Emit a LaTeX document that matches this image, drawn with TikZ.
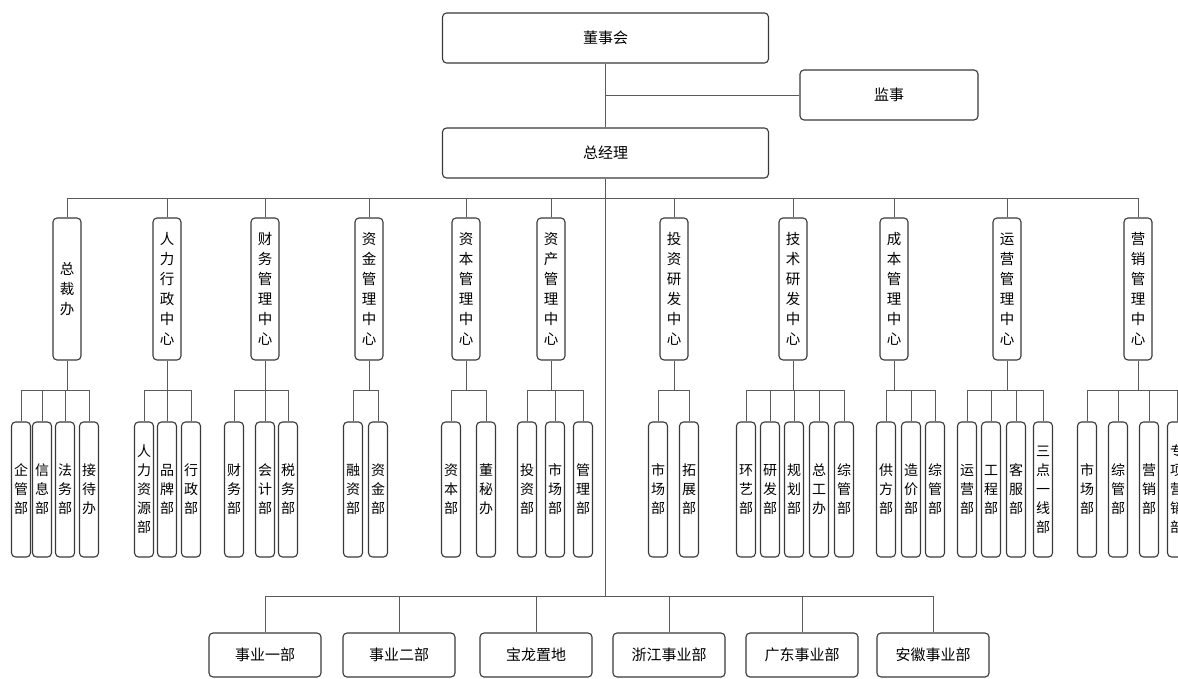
\documentclass[tikz,border=0pt]{standalone}
\usepackage{fontspec}
\newfontfamily\cjk{Noto Sans CJK SC}
\usetikzlibrary{calc}
\definecolor{boxc}{HTML}{3A3A3A}
\definecolor{linec}{HTML}{5A5A5A}
\begin{document}
\begin{tikzpicture}[x=1pt,y=-1pt,
 box/.style={draw=boxc, line width=1.1pt, rounded corners=4pt, fill=white, inner sep=0pt, align=center, font=\cjk\fontsize{14.5pt}{20pt}\selectfont},
 topbox/.style={box, minimum width=326pt, minimum height=50pt, font=\cjk\fontsize{15pt}{20pt}\selectfont},
 supbox/.style={box, minimum width=178pt, minimum height=50pt, font=\cjk\fontsize{15pt}{20pt}\selectfont},
 lvtwo/.style={box, minimum width=28pt, minimum height=142pt},
 lvthree/.style={box, minimum width=19pt, minimum height=135pt, font=\cjk\fontsize{14pt}{19pt}\selectfont},
 unitbox/.style={box, minimum width=112pt, minimum height=44pt, font=\cjk\fontsize{15pt}{20pt}\selectfont},
 conn/.style={draw=linec, line width=0.9pt}]
\useasboundingbox (0,0) rectangle (1178,679);
\fill[white] (0,0) rectangle (1178,679);
\clip (0,0) rectangle (1178,679);

% top
\node[topbox] (dsh) at (605.5,38) {董事会};
\node[supbox] (js) at (889,95) {监事};
\node[topbox] (zjl) at (605.5,153) {总经理};
\coordinate (bus2) at (605,198);
\coordinate (bus3) at (605,390);
\coordinate (busb) at (605,596);

% level 2
\node[lvtwo] (a1) at (67,289) {总\\裁\\办};
\node[lvtwo] (a2) at (167,289) {人\\力\\行\\政\\中\\心};
\node[lvtwo] (a3) at (265,289) {财\\务\\管\\理\\中\\心};
\node[lvtwo] (a4) at (369,289) {资\\金\\管\\理\\中\\心};
\node[lvtwo] (a5) at (466,289) {资\\本\\管\\理\\中\\心};
\node[lvtwo] (a6) at (551,289) {资\\产\\管\\理\\中\\心};
\node[lvtwo] (a7) at (674,289) {投\\资\\研\\发\\中\\心};
\node[lvtwo] (a8) at (793,289) {技\\术\\研\\发\\中\\心};
\node[lvtwo] (a9) at (894,289) {成\\本\\管\\理\\中\\心};
\node[lvtwo] (a10) at (1007,289) {运\\营\\管\\理\\中\\心};
\node[lvtwo] (a11) at (1138,289) {营\\销\\管\\理\\中\\心};

% level 3
\node[lvthree] (b1) at (21,489.5) {企\\管\\部};
\node[lvthree] (b2) at (42,489.5) {信\\息\\部};
\node[lvthree] (b3) at (65,489.5) {法\\务\\部};
\node[lvthree] (b4) at (89,489.5) {接\\待\\办};

\node[lvthree] (c1) at (144,489.5) {人\\力\\资\\源\\部};
\node[lvthree] (c2) at (167,489.5) {品\\牌\\部};
\node[lvthree] (c3) at (191,489.5) {行\\政\\部};

\node[lvthree] (d1) at (234,489.5) {财\\务\\部};
\node[lvthree] (d2) at (265,489.5) {会\\计\\部};
\node[lvthree] (d3) at (288,489.5) {税\\务\\部};

\node[lvthree] (e1) at (353,489.5) {融\\资\\部};
\node[lvthree] (e2) at (378,489.5) {资\\金\\部};

\node[lvthree] (f1) at (451,489.5) {资\\本\\部};
\node[lvthree] (f2) at (486,489.5) {董\\秘\\办};

\node[lvthree] (g1) at (527,489.5) {投\\资\\部};
\node[lvthree] (g2) at (555,489.5) {市\\场\\部};
\node[lvthree] (g3) at (583,489.5) {管\\理\\部};

\node[lvthree] (h1) at (658,489.5) {市\\场\\部};
\node[lvthree] (h2) at (689,489.5) {拓\\展\\部};

\node[lvthree] (i1) at (746,489.5) {环\\艺\\部};
\node[lvthree] (i2) at (770,489.5) {研\\发\\部};
\node[lvthree] (i3) at (794,489.5) {规\\划\\部};
\node[lvthree] (i4) at (819,489.5) {总\\工\\办};
\node[lvthree] (i5) at (844,489.5) {综\\管\\部};

\node[lvthree] (j1) at (886,489.5) {供\\方\\部};
\node[lvthree] (j2) at (911,489.5) {造\\价\\部};
\node[lvthree] (j3) at (935,489.5) {综\\管\\部};

\node[lvthree] (k1) at (967,489.5) {运\\营\\部};
\node[lvthree] (k2) at (991,489.5) {工\\程\\部};
\node[lvthree] (k3) at (1016,489.5) {客\\服\\部};
\node[lvthree] (k4) at (1043,489.5) {三\\点\\一\\线\\部};

\node[lvthree] (m1) at (1087,489.5) {市\\场\\部};
\node[lvthree] (m2) at (1118,489.5) {综\\管\\部};
\node[lvthree] (m3) at (1149,489.5) {营\\销\\部};
\node[lvthree] (m4) at (1177,489.5) {专\\项\\营\\销\\部};

% business units
\node[unitbox] (u1) at (265,655) {事业一部};
\node[unitbox] (u2) at (399,655) {事业二部};
\node[unitbox] (u3) at (536,655) {宝龙置地};
\node[unitbox] (u4) at (669,655) {浙江事业部};
\node[unitbox] (u5) at (802,655) {广东事业部};
\node[unitbox] (u6) at (933,655) {安徽事业部};

% connectors top
\draw[conn] (dsh.south) -- (zjl.north);
\draw[conn] (js.west) -- (js.west -| dsh.south);
\draw[conn] (zjl.south) -- (zjl.south |- busb);
\draw[conn] (a1.north |- bus2) -- (a11.north |- bus2);
\foreach \n in {a1,a2,a3,a4,a5,a6,a7,a8,a9,a10,a11}
  \draw[conn] (\n.north) -- (\n.north |- bus2);

% level 3 groups
\foreach \p/\first/\last/\kids in {
  a1/b1/b4/{b1,b2,b3,b4},
  a2/c1/c3/{c1,c2,c3},
  a3/d1/d3/{d1,d2,d3},
  a4/e1/e2/{e1,e2},
  a5/f1/f2/{f1,f2},
  a6/g1/g3/{g1,g2,g3},
  a7/h1/h2/{h1,h2},
  a8/i1/i5/{i1,i2,i3,i4,i5},
  a9/j1/j3/{j1,j2,j3},
  a10/k1/k4/{k1,k2,k3,k4},
  a11/m1/m4/{m1,m2,m3,m4}}{
  \draw[conn] (\p.south) -- (\p.south |- bus3);
  \draw[conn] (\first.north |- bus3) -- (\last.north |- bus3);
  \foreach \c in \kids \draw[conn] (\c.north) -- (\c.north |- bus3);
}

% business unit bus
\draw[conn] (u1.north |- busb) -- (u6.north |- busb);
\foreach \u in {u1,u2,u3,u4,u5,u6}
  \draw[conn] (\u.north) -- (\u.north |- busb);
\end{tikzpicture}
\end{document}
